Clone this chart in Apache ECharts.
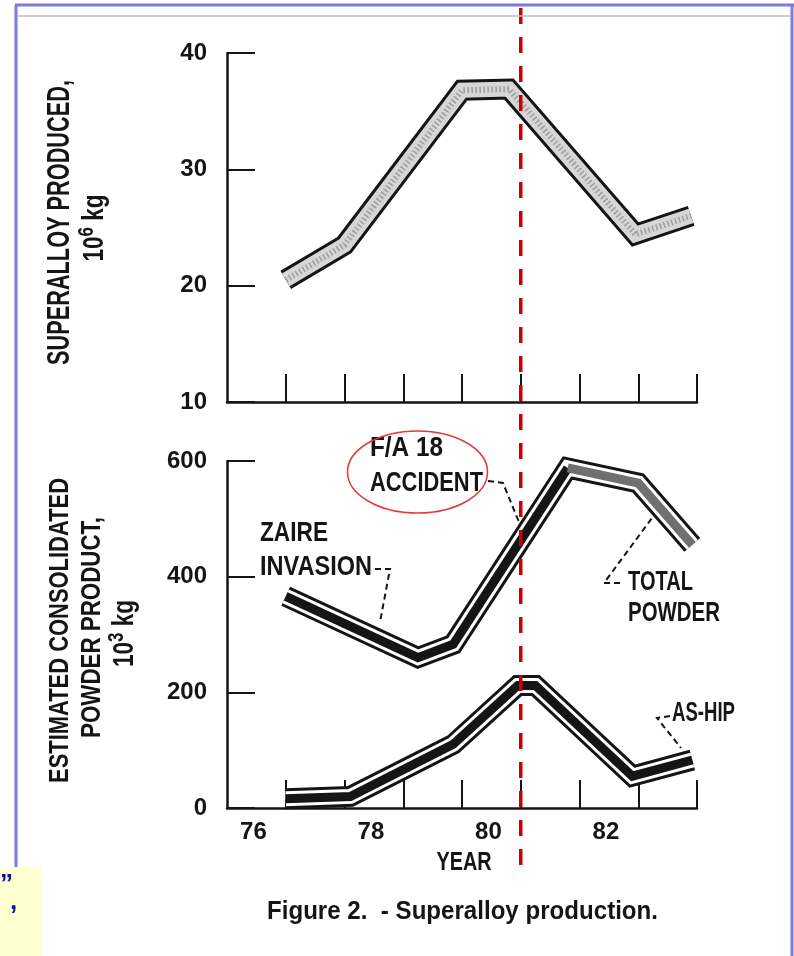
<!DOCTYPE html>
<html><head><meta charset="utf-8">
<script src="https://cdn.jsdelivr.net/npm/echarts@6/dist/echarts.min.js"></script>
<style>html,body{margin:0;padding:0;background:#fff;}#c{width:794px;height:956px;}</style>
</head><body><div id="c"></div>
<script>
// ---- data ----
const superYears  = [76.5, 77.5, 79.5, 80.3, 82.45, 83.4];
const superValues = [20.5, 23.5, 36.8, 36.9, 24.4, 26.0];
const totalYears  = [76.5, 78.75, 79.35, 81.3, 82.5, 83.42];
const totalValues = [366, 260, 283, 588, 562, 455];
const hipYears    = [76.5, 77.6, 79.35, 80.45, 80.75, 82.4, 83.42];
const hipValues   = [16, 20, 110, 212, 212, 55, 83];
const yearTicks   = [76.5, 77.5, 78.5, 79.5, 80.5, 81.5, 82.5, 83.5];
const yearLabels  = [76, 78, 80, 82];
const superTicks  = [10, 20, 30, 40];
const powderTicks = [0, 200, 400, 600];
const accidentYear = 80.5;

const FONT = "'Liberation Sans',Arial,sans-serif";
const INK = '#151515';

function pts(xs, ys) { return xs.map((x, i) => [x, ys[i]]); }
const superData = pts(superYears, superValues);
const totalData = pts(totalYears, totalValues);
const hipData = pts(hipYears, hipValues);
const peakIdx = totalValues.indexOf(Math.max(...totalValues));

function band(name, data, xi, width, color, z, type) {
  return {
    name, type: 'line', xAxisIndex: xi, yAxisIndex: xi, data,
    symbol: 'none', silent: true, animation: false, z,
    lineStyle: { width, color, cap: 'butt', join: 'miter', miterLimit: 10, type: type || 'solid' }
  };
}

const xAxisBase = (i) => ({
  type: 'value', gridIndex: i, min: 75.5, max: 83.5,
  axisLine: { show: true, onZero: false, lineStyle: { color: INK, width: 2.5 } },
  axisTick: { show: true, inside: true, length: 28, customValues: yearTicks, lineStyle: { color: INK, width: 2 } },
  axisLabel: { show: i === 1, customValues: yearLabels, fontFamily: FONT, fontSize: 24, fontWeight: 'bold', color: INK, margin: 12, padding: [0, 6, 0, 0] },
  splitLine: { show: false }
});
const yAxisBase = (i, ticks) => ({
  type: 'value', gridIndex: i, min: ticks[0], max: ticks[ticks.length - 1], interval: ticks[1] - ticks[0],
  axisLine: { show: true, onZero: false, lineStyle: { color: INK, width: 2.5 } },
  axisTick: { show: true, inside: true, length: 28, lineStyle: { color: INK, width: 2 } },
  axisLabel: { fontFamily: FONT, fontSize: 24, fontWeight: 'bold', color: INK, margin: 20 },
  splitLine: { show: false }
});

const chart = echarts.init(document.getElementById('c'), null, { renderer: 'canvas' });
chart.setOption({
  animation: false,
  backgroundColor: '#ffffff',
  grid: [
    { left: 227, top: 53, width: 470, height: 349 },
    { left: 227, top: 461, width: 470, height: 347 }
  ],
  xAxis: [xAxisBase(0), xAxisBase(1)],
  yAxis: [yAxisBase(0, superTicks), yAxisBase(1, powderTicks)],
  series: [
    band('Superalloy outline', superData, 0, 21, INK, 2),
    band('Superalloy fill', superData, 0, 15, '#d6d6d6', 3),
    band('Superalloy hatch', superData, 0, 6, '#9c9c9c', 4, [1.5, 2.5]),
    band('Total outline', totalData, 1, 21, INK, 2),
    band('Total gap', totalData, 1, 15, '#ffffff', 3),
    band('Total core', totalData.slice(0, peakIdx + 1), 1, 9, INK, 4),
    band('Total core hatch', totalData.slice(peakIdx), 1, 9, '#707070', 4),
    band('AS-HIP outline', hipData, 1, 21, INK, 2),
    band('AS-HIP gap', hipData, 1, 15, '#ffffff', 3),
    band('AS-HIP core', hipData, 1, 9, INK, 4)
  ]
});

const redX = chart.convertToPixel({ xAxisIndex: 1 }, accidentYear);

// text fitting helpers (layout only)
const mctx = document.createElement('canvas').getContext('2d');
function measure(t, size) { mctx.font = 'bold ' + size + 'px ' + FONT; return mctx.measureText(t).width; }
function fit(t, x, y, width, capH, opts) {
  opts = opts || {};
  const F = Math.round(capH / 0.716 * 10) / 10;
  const w = opts.measureAs ? opts.measureAs(F) : measure(t, F);
  const sx = width / w;
  return {
    type: 'text', x, y, rotation: opts.rotation || 0, scaleX: sx, scaleY: 1, z: 20,
    style: Object.assign({
      text: t, fill: opts.color || INK,
      font: 'bold ' + F + 'px ' + FONT,
      textAlign: opts.align || 'left', textVerticalAlign: 'middle',
      align: opts.align || 'left', verticalAlign: 'middle'
    }, opts.rich ? { rich: opts.rich(F) } : {})
  };
}
function leader(points) {
  return { type: 'polyline', z: 20, shape: { points }, style: { stroke: INK, lineWidth: 2, fill: null, lineDash: [6, 4] } };
}
const supRich = (F) => ({ s: { fontSize: Math.round(F * 0.75), fontWeight: 'bold', fontFamily: FONT, fill: INK, verticalAlign: 'bottom', padding: [0, 0, Math.round(F * 0.55), 0] } });
const supMeasure = (sup) => (F) => measure('10', F) + measure(sup, Math.round(F * 0.75)) + measure(' kg', F);
const ROT = Math.PI / 2;

chart.setOption({
  graphic: [
    // slide frame
    { type: 'rect', z: 1, shape: { x: 0, y: 867, width: 41, height: 89 }, style: { fill: '#ffffd2' } },
    { type: 'line', z: 30, shape: { x1: 16, y1: 5, x2: 16, y2: 867 }, style: { stroke: '#7b7bdc', lineWidth: 3 } },
    { type: 'line', z: 30, shape: { x1: 15, y1: 5, x2: 794, y2: 5 }, style: { stroke: '#7b7bdc', lineWidth: 3 } },
    { type: 'line', z: 30, shape: { x1: 792, y1: 5, x2: 792, y2: 956 }, style: { stroke: '#7b7bdc', lineWidth: 3 } },
    { type: 'line', z: 30, shape: { x1: 18, y1: 16, x2: 790, y2: 16 }, style: { stroke: '#bdbdbd', lineWidth: 1.5 } },
    { type: 'text', x: 0, y: 872, z: 20, style: { text: '\u201D', fill: '#10109a', font: 'bold 26px ' + FONT } },
    { type: 'text', x: 10, y: 889, z: 20, style: { text: ',', fill: '#10109a', font: 'bold 26px ' + FONT } },
    // axis names (rotated)
    fit('SUPERALLOY PRODUCED,', 61, 222.5, 285, 22, { rotation: ROT, align: 'center' }),
    fit('10{s|6} kg', 95, 228, 67, 21, { rotation: ROT, align: 'center', rich: supRich, measureAs: supMeasure('6') }),
    fit('ESTIMATED CONSOLIDATED', 60, 630.5, 305, 20, { rotation: ROT, align: 'center' }),
    fit('POWDER PRODUCT,', 92, 627.5, 221, 20, { rotation: ROT, align: 'center' }),
    fit('10{s|3} kg', 125, 633.5, 67, 21, { rotation: ROT, align: 'center', rich: supRich, measureAs: supMeasure('3') }),
    fit('YEAR', 464, 862.5, 55, 19, { align: 'center' }),
    fit('Figure 2.  - Superalloy production.', 462.5, 912, 391, 18, { align: 'center' }),
    // annotations
    fit('ZAIRE', 260, 533, 68, 20),
    fit('INVASION', 260, 567, 112, 20),
    leader([[375, 569], [390, 569], [380, 622]]),
    fit('F/A 18', 370, 448, 73, 20),
    fit('ACCIDENT', 370, 483, 113, 20),
    leader([[488, 481], [503, 483], [519, 522]]),
    { type: 'ellipse', z: 21, shape: { cx: 417.5, cy: 472, rx: 70, ry: 41 }, style: { stroke: '#e03a3a', lineWidth: 1.5, fill: null } },
    fit('TOTAL', 628, 582.5, 65, 20),
    fit('POWDER', 628, 613.5, 92, 20),
    leader([[620, 583], [604, 583], [652, 518]]),
    fit('AS-HIP', 672, 713, 63, 20),
    leader([[670, 716], [657, 718], [681, 748]]),
    // accident marker
    { type: 'line', z: 25, shape: { x1: redX, y1: 8, x2: redX, y2: 876 }, style: { stroke: '#cc0000', lineWidth: 3.5, lineDash: [16, 13] } }
  ]
});
</script></body></html>
